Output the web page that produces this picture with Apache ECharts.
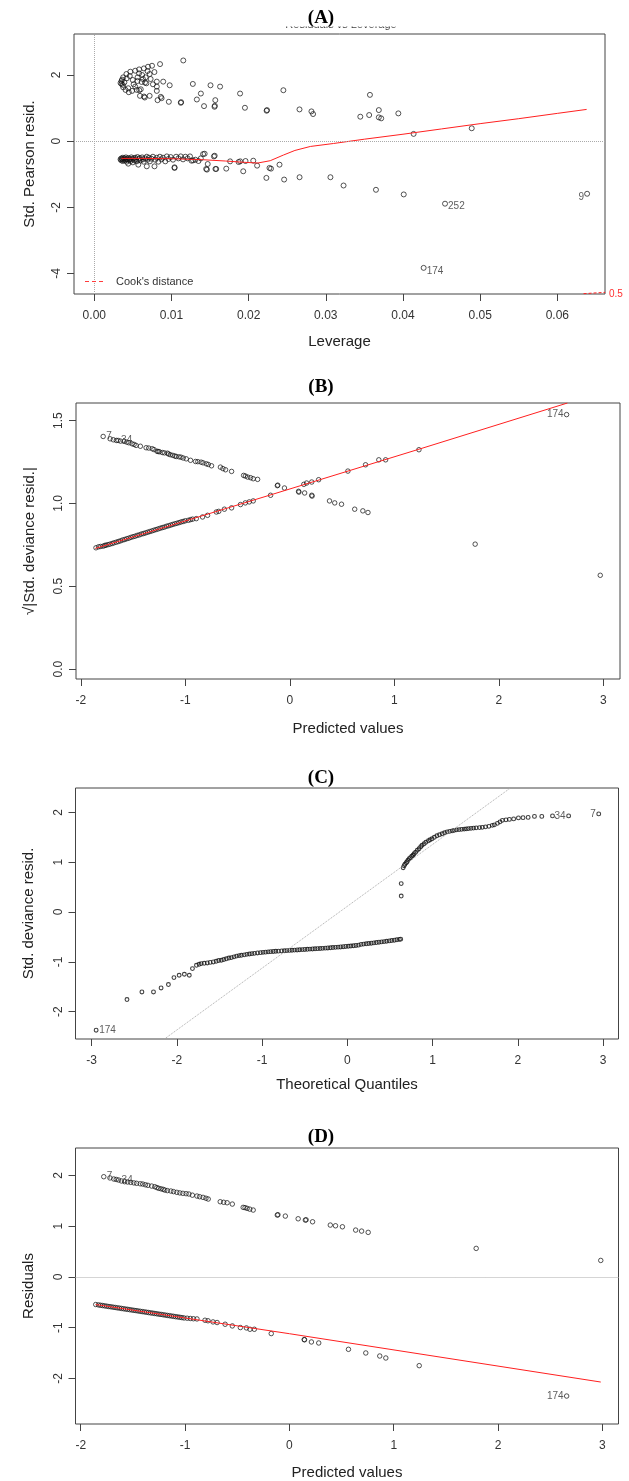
<!DOCTYPE html>
<html>
<head>
<meta charset="utf-8">
<title>GLM diagnostics</title>
<script src="https://cdn.jsdelivr.net/npm/echarts@6.0.0/dist/echarts.min.js"></script>
<style>
  html, body { margin: 0; padding: 0; background: #fff; }
  #chart { width: 629px; height: 1481px; }
</style>
</head>
<body>
<div id="chart"></div>
<script>
// (A) Residuals vs Leverage
const aPos = [
  [0.01153,2.44],[0.00852,2.33],[0.00748,2.28],[0.00696,2.25],[0.00643,2.20],[0.00581,2.17],[0.0053,2.13],
  [0.00467,2.10],[0.00416,2.03],[0.00374,1.93],[0.00353,1.82],[0.0034,1.76],[0.00353,1.73],[0.00374,1.63],
  [0.00405,1.55],[0.00447,1.48],[0.00592,1.37],[0.00654,1.32],[0.00717,1.37],[0.0082,1.24],[0.00862,1.34],
  [0.00966,1.19],[0.01121,1.16],[0.01125,1.18],[0.00498,1.85],[0.00561,1.93],[0.00613,1.79],[0.00675,1.75],
  [0.00602,1.57],[0.0053,1.65],[0.00665,1.93],[0.00717,2.03],[0.00779,2.09],[0.0081,1.80],[0.0081,1.65],
  [0.00893,1.80],[0.00977,1.69],[0.0081,1.52],[0.00872,1.30],[0.0037,1.70],[0.0039,1.78],[0.0036,1.86],
  [0.0042,1.90],[0.0046,1.97],[0.0044,1.60],[0.0049,1.52],[0.0051,1.72],[0.0056,1.82],[0.0058,2.05],
  [0.0062,2.00],[0.0069,2.12],[0.0073,1.88],[0.0076,1.72],[0.0063,1.88],[0.0055,1.55],[0.00644,1.35],
  [0.00583,1.54],[0.00657,1.77],[0.01277,1.73],[0.01329,1.26],[0.01381,1.44],[0.01422,1.06],[0.01506,1.69],
  [0.01558,1.04],[0.01562,1.07],[0.01568,1.24],[0.0163,1.65],[0.01889,1.44],[0.01952,1.01],[0.02233,0.92],
  [0.02238,0.94],[0.0245,1.54],[0.02659,0.96],[0.02814,0.90],[0.02835,0.82],[0.03447,0.74],[0.03562,0.79],
  [0.03572,1.40],[0.03687,0.94],[0.03687,0.72],[0.03718,0.69],[0.0394,0.84],[0.04138,0.22],[0.04891,0.39]
];
const aNeg = [
  [0.0034,-0.55],[0.0035,-0.52],[0.0035,-0.58],[0.0036,-0.54],[0.0037,-0.50],[0.0037,-0.60],[0.0038,-0.56],
  [0.0039,-0.52],[0.0040,-0.58],[0.0041,-0.54],[0.0041,-0.49],[0.0042,-0.62],[0.0043,-0.55],[0.0044,-0.51],
  [0.0044,-0.68],[0.0045,-0.57],[0.0046,-0.53],[0.0047,-0.60],[0.0048,-0.49],[0.0049,-0.55],[0.0050,-0.64],
  [0.0051,-0.52],[0.0052,-0.58],[0.0053,-0.50],[0.0054,-0.55],[0.0055,-0.61],[0.0056,-0.48],[0.0057,-0.71],
  [0.0058,-0.54],[0.0059,-0.51],[0.0060,-0.58],[0.0062,-0.49],[0.0063,-0.55],[0.0064,-0.62],[0.0066,-0.52],
  [0.0068,-0.76],[0.0068,-0.47],[0.0069,-0.56],[0.0071,-0.50],[0.0072,-0.61],[0.0074,-0.53],[0.0076,-0.47],
  [0.0078,-0.76],[0.0079,-0.56],[0.0081,-0.50],[0.0083,-0.62],[0.0085,-0.47],[0.0087,-0.55],[0.0089,-0.50],
  [0.0092,-0.61],[0.0094,-0.46],[0.0096,-0.54],[0.0099,-0.48],[0.0102,-0.56],[0.0104,-0.79],[0.0104,-0.81],
  [0.0106,-0.47],[0.0109,-0.52],[0.0112,-0.46],[0.0115,-0.55],[0.0118,-0.47],[0.0121,-0.52],[0.0124,-0.46],
  [0.0126,-0.59],[0.0128,-0.58],[0.0131,-0.56],[0.0135,-0.60],[0.0138,-0.52],[0.0141,-0.39],[0.0143,-0.38],
  [0.0145,-0.84],[0.0146,-0.86],[0.0147,-0.69],[0.0155,-0.46],[0.0156,-0.44],[0.0157,-0.84],[0.0158,-0.84],
  [0.0171,-0.83],[0.0176,-0.61],[0.0187,-0.63],[0.0189,-0.61],[0.0193,-0.91],[0.0196,-0.60],[0.0206,-0.59],
  [0.0211,-0.74],[0.0223,-1.11],[0.0227,-0.81],[0.0229,-0.83],[0.0240,-0.71],[0.0246,-1.16],[0.0266,-1.09],
  [0.0306,-1.09],[0.0323,-1.34],[0.0365,-1.47],[0.0401,-1.61],[0.04545,-1.89],[0.06386,-1.59],[0.04268,-3.83]
];
const aSmooth = [
  [0.0035,-0.52],[0.006,-0.52],[0.010,-0.53],[0.014,-0.56],[0.017,-0.60],[0.0195,-0.64],[0.0212,-0.66],
  [0.0228,-0.59],[0.0245,-0.42],[0.026,-0.28],[0.028,-0.16],[0.031,-0.07],[0.035,0.06],[0.040,0.21],
  [0.045,0.37],[0.050,0.53],[0.055,0.68],[0.060,0.84],[0.0638,0.96]
];
const aCook = [[0.0634,-4.61],[0.0662,-4.57]];
const aLabels = [[0.04545,-1.89,'252','right'],[0.04268,-3.83,'174','right'],[0.06386,-1.59,'9','left']];
const aXTicks = [0, 0.01, 0.02, 0.03, 0.04, 0.05, 0.06];
const aYTicks = [-4, -2, 0, 2];

// (B) Scale-Location
const bPos = [
  [-1.786,1.404],[-1.72,1.39],[-1.689,1.384],[-1.66,1.38],[-1.643,1.380],[-1.62,1.376],[-1.586,1.374],
  [-1.56,1.37],[-1.540,1.366],[-1.51,1.36],[-1.490,1.356],[-1.471,1.350],[-1.43,1.345],[-1.375,1.336],
  [-1.35,1.334],[-1.317,1.330],[-1.30,1.325],[-1.271,1.315],[-1.26,1.313],[-1.248,1.312],[-1.22,1.307],
  [-1.20,1.305],[-1.171,1.303],[-1.16,1.298],[-1.144,1.294],[-1.12,1.29],[-1.10,1.286],[-1.087,1.283],
  [-1.06,1.281],[-1.041,1.279],[-1.02,1.274],[-0.991,1.269],[-0.95,1.26],[-0.902,1.253],[-0.88,1.252],
  [-0.849,1.249],[-0.83,1.245],[-0.799,1.239],[-0.78,1.235],[-0.749,1.227],[-0.664,1.219],[-0.64,1.21],
  [-0.615,1.203],[-0.557,1.193],[-0.442,1.169],[-0.425,1.165],[-0.403,1.159],[-0.375,1.155],[-0.350,1.149],
  [-0.308,1.145],[-0.119,1.107],[-0.115,1.11],[-0.051,1.093],[0.084,1.073],[0.087,1.068],[0.142,1.063],
  [0.210,1.049],[0.213,1.044],[0.380,1.015],[0.430,1.003],[0.495,0.995],[0.621,0.965],[0.699,0.955],
  [0.748,0.945],[1.774,0.754],[2.971,0.566]
];
const bNeg = [
  [-1.855,0.732],[-1.83,0.738],[-1.81,0.74],[-1.786,0.742],[-1.77,0.746],[-1.759,0.748],[-1.74,0.751],
  [-1.721,0.754],[-1.70,0.758],[-1.682,0.762],[-1.66,0.766],[-1.64,0.77],[-1.62,0.774],[-1.60,0.779],
  [-1.58,0.782],[-1.56,0.787],[-1.54,0.79],[-1.52,0.795],[-1.50,0.799],[-1.48,0.802],[-1.46,0.807],
  [-1.44,0.81],[-1.42,0.815],[-1.40,0.818],[-1.38,0.822],[-1.36,0.826],[-1.34,0.83],[-1.32,0.834],
  [-1.30,0.838],[-1.28,0.842],[-1.26,0.846],[-1.24,0.85],[-1.22,0.854],[-1.20,0.857],[-1.18,0.862],
  [-1.16,0.865],[-1.14,0.869],[-1.12,0.873],[-1.10,0.877],[-1.08,0.88],[-1.06,0.884],[-1.04,0.888],
  [-1.02,0.891],[-1.00,0.895],[-0.971,0.898],[-0.95,0.902],[-0.93,0.905],[-0.895,0.908],[-0.835,0.918],
  [-0.787,0.928],[-0.703,0.948],[-0.68,0.952],[-0.626,0.965],[-0.557,0.973],[-0.472,0.993],[-0.426,1.003],
  [-0.388,1.009],[-0.350,1.015],[-0.184,1.049],[0.134,1.115],[0.161,1.123],[0.210,1.129],[0.276,1.143],
  [0.556,1.195],[0.725,1.233],[0.852,1.263],[0.917,1.263],[1.236,1.324],[2.649,1.536]
];
const bSmooth = [[-1.862,0.728],[-0.18,1.052],[1.236,1.327],[2.657,1.606]];
const bLabels = [[-1.786,1.404,'7','right'],[-1.643,1.380,'34','right'],[2.649,1.536,'174','left']];
const bXTicks = [-2, -1, 0, 1, 2, 3];
const bYTicks = [0, 0.5, 1, 1.5];

// (C) Normal Q-Q
const cPts = [
  [-2.948,-2.373],[-2.586,-1.758],[-2.411,-1.605],[-2.275,-1.605],[-2.186,-1.525],[-2.10,-1.457],[-2.035,-1.317],
  [-1.974,-1.27],[-1.913,-1.25],[-1.855,-1.27],[-1.818,-1.136],[-1.771,-1.07],[-1.74,-1.05],[-1.715,-1.036],
  [-1.68,-1.03],[-1.644,-1.023],[-1.61,-1.012],[-1.573,-1.003],[-1.54,-0.99],[-1.51,-0.975],[-1.479,-0.969],
  [-1.45,-0.955],[-1.42,-0.94],[-1.39,-0.925],[-1.361,-0.916],[-1.33,-0.90],[-1.30,-0.885],[-1.27,-0.875],
  [-1.243,-0.869],[-1.21,-0.86],[-1.18,-0.85],[-1.15,-0.843],[-1.12,-0.836],[-1.09,-0.83],[-1.055,-0.822],
  [-1.02,-0.816],[-0.99,-0.81],[-0.96,-0.806],[-0.93,-0.80],[-0.90,-0.796],[-0.87,-0.792],[-0.84,-0.789],
  [-0.81,-0.786],[-0.772,-0.782],[-0.74,-0.778],[-0.71,-0.775],[-0.68,-0.771],[-0.65,-0.768],[-0.62,-0.765],
  [-0.59,-0.762],[-0.56,-0.758],[-0.53,-0.755],[-0.50,-0.752],[-0.47,-0.749],[-0.44,-0.745],[-0.41,-0.742],
  [-0.38,-0.739],[-0.35,-0.736],[-0.32,-0.733],[-0.29,-0.73],[-0.26,-0.726],[-0.23,-0.722],[-0.20,-0.718],
  [-0.17,-0.714],[-0.14,-0.71],[-0.11,-0.706],[-0.08,-0.702],[-0.05,-0.697],[-0.02,-0.692],[0.01,-0.688],
  [0.04,-0.683],[0.07,-0.678],[0.10,-0.672],[0.13,-0.666],[0.16,-0.65],[0.19,-0.644],[0.22,-0.638],
  [0.25,-0.632],[0.28,-0.626],[0.31,-0.62],[0.34,-0.613],[0.37,-0.606],[0.40,-0.60],[0.43,-0.594],
  [0.46,-0.587],[0.49,-0.58],[0.52,-0.573],[0.55,-0.566],[0.58,-0.558],[0.61,-0.55],[0.625,-0.545],
  [0.631,0.32],[0.631,0.57],
  [0.654,0.89],[0.665,0.93],[0.675,0.96],[0.69,0.99],[0.70,1.01],[0.711,1.04],[0.725,1.07],[0.74,1.09],
  [0.755,1.12],[0.77,1.14],[0.782,1.17],[0.80,1.20],[0.82,1.24],[0.84,1.27],[0.86,1.31],[0.876,1.34],
  [0.90,1.37],[0.92,1.40],[0.95,1.43],[0.97,1.45],[0.993,1.47],[1.02,1.50],[1.05,1.53],[1.08,1.55],
  [1.112,1.57],[1.14,1.59],[1.17,1.61],[1.20,1.62],[1.23,1.63],[1.253,1.64],[1.28,1.65],[1.31,1.655],
  [1.34,1.66],[1.37,1.665],[1.394,1.67],[1.42,1.675],[1.45,1.68],[1.48,1.685],[1.51,1.69],[1.55,1.695],
  [1.582,1.70],[1.62,1.71],[1.66,1.72],[1.70,1.74],[1.724,1.75],[1.76,1.78],[1.79,1.81],[1.818,1.84],
  [1.86,1.85],[1.90,1.86],[1.95,1.87],[2.006,1.89],[2.06,1.895],[2.12,1.90],[2.194,1.92],[2.28,1.92],
  [2.406,1.93],[2.595,1.93],[2.948,1.97]
];
const cQQLine = [[-2.147,-2.55],[1.912,2.49]];
const cLabels = [[-2.948,-2.373,'174','right'],[2.595,1.93,'34','left'],[2.948,1.97,'7','left']];
const cXTicks = [-3, -2, -1, 0, 1, 2, 3];
const cYTicks = [-2, -1, 0, 1, 2];

// (D) Residuals vs Fitted
const dPos = [
  [-1.779,1.974],[-1.72,1.95],[-1.683,1.929],[-1.66,1.92],[-1.637,1.909],[-1.61,1.89],[-1.579,1.876],
  [-1.55,1.87],[-1.521,1.863],[-1.49,1.852],[-1.464,1.844],[-1.43,1.835],[-1.406,1.83],[-1.38,1.815],
  [-1.356,1.804],[-1.32,1.79],[-1.29,1.777],[-1.27,1.76],[-1.252,1.745],[-1.23,1.735],[-1.21,1.725],
  [-1.194,1.711],[-1.17,1.70],[-1.136,1.692],[-1.11,1.68],[-1.079,1.666],[-1.05,1.655],[-1.021,1.646],
  [-0.99,1.64],[-0.963,1.633],[-0.93,1.61],[-0.886,1.593],[-0.86,1.58],[-0.828,1.567],[-0.80,1.55],
  [-0.778,1.534],[-0.663,1.481],[-0.63,1.47],[-0.597,1.461],[-0.547,1.435],[-0.443,1.37],[-0.425,1.365],
  [-0.405,1.35],[-0.38,1.335],[-0.347,1.317],[-0.116,1.218],[-0.11,1.225],[-0.039,1.198],[0.084,1.145],
  [0.153,1.119],[0.16,1.125],[0.222,1.086],[0.392,1.021],[0.442,1.007],[0.508,0.987],[0.635,0.922],
  [0.692,0.902],[0.755,0.877],[1.79,0.561],[2.984,0.324]
];
const dNeg = [
  [-1.856,-0.545],[-1.83,-0.553],[-1.81,-0.56],[-1.79,-0.565],[-1.77,-0.572],[-1.75,-0.578],[-1.73,-0.585],
  [-1.71,-0.59],[-1.69,-0.597],[-1.67,-0.603],[-1.65,-0.61],[-1.63,-0.615],[-1.61,-0.622],[-1.59,-0.628],
  [-1.57,-0.635],[-1.55,-0.64],[-1.53,-0.647],[-1.51,-0.653],[-1.49,-0.66],[-1.47,-0.665],[-1.45,-0.672],
  [-1.43,-0.678],[-1.41,-0.685],[-1.39,-0.69],[-1.37,-0.697],[-1.35,-0.703],[-1.33,-0.71],[-1.31,-0.715],
  [-1.29,-0.722],[-1.27,-0.728],[-1.25,-0.735],[-1.23,-0.74],[-1.21,-0.747],[-1.19,-0.753],[-1.17,-0.76],
  [-1.15,-0.765],[-1.13,-0.772],[-1.11,-0.778],[-1.09,-0.785],[-1.07,-0.79],[-1.05,-0.797],[-1.03,-0.803],
  [-1.01,-0.81],[-0.98,-0.815],[-0.95,-0.82],[-0.92,-0.825],[-0.886,-0.829],[-0.809,-0.855],[-0.78,-0.865],
  [-0.732,-0.888],[-0.693,-0.90],[-0.616,-0.934],[-0.547,-0.967],[-0.47,-0.999],[-0.412,-1.006],
  [-0.378,-1.033],[-0.336,-1.033],[-0.174,-1.118],[0.142,-1.236],[0.145,-1.24],[0.211,-1.283],
  [0.281,-1.303],[0.566,-1.428],[0.732,-1.50],[0.866,-1.56],[0.924,-1.599],[1.244,-1.75],[2.657,-2.349]
];
const dSmooth = [[-1.856,-0.545],[0,-1.12],[2.984,-2.073]];
const dLabels = [[-1.779,1.974,'7','right'],[-1.637,1.909,'34','right'],[2.657,-2.349,'174','left']];
const dXTicks = [-2, -1, 0, 1, 2, 3];
const dYTicks = [-2, -1, 0, 1, 2];

const SANS = '"Liberation Sans", Arial, sans-serif';
const SERIF = '"Liberation Serif", "Times New Roman", serif';
const AXC = '#444';

function xAx(gi, min, max, ticks, dec, name, gap) {
  return {
    type: 'value', gridIndex: gi, min: min, max: max,
    axisLine: { show: false, onZero: false },
    axisTick: { show: true, length: 7, inside: false, customValues: ticks, lineStyle: { color: AXC } },
    axisLabel: { customValues: ticks, formatter: v => v.toFixed(dec), margin: 16, fontSize: 12, color: '#333', fontFamily: SANS },
    splitLine: { show: false },
    name: name, nameLocation: 'middle', nameGap: gap,
    nameTextStyle: { fontSize: 15, color: '#222', fontFamily: SANS }
  };
}
function yAx(gi, min, max, ticks, dec, name, gap) {
  return {
    type: 'value', gridIndex: gi, min: min, max: max,
    axisLine: { show: false, onZero: false },
    axisTick: { show: true, length: 7, inside: false, customValues: ticks, lineStyle: { color: AXC } },
    axisLabel: { customValues: ticks, formatter: v => v.toFixed(dec), rotate: 90, margin: 11, fontSize: 12, color: '#333', fontFamily: SANS },
    splitLine: { show: false },
    name: name, nameLocation: 'middle', nameGap: gap,
    nameTextStyle: { fontSize: 15, color: '#222', fontFamily: SANS }
  };
}
function pts(gi, data, size, bw) {
  return {
    type: 'scatter', xAxisIndex: gi, yAxisIndex: gi, data: data, symbol: 'circle', symbolSize: size,
    itemStyle: { color: 'rgba(0,0,0,0)', borderColor: '#111', borderWidth: bw || 0.9 }, silent: true
  };
}
function redLine(gi, data, dashed) {
  return {
    type: 'line', xAxisIndex: gi, yAxisIndex: gi, data: data, showSymbol: false, symbol: 'none', silent: true,
    lineStyle: { color: '#ff2020', width: 1, type: dashed ? [3, 2] : 'solid' }
  };
}
function labels(gi, arr, dy) {
  return {
    type: 'scatter', xAxisIndex: gi, yAxisIndex: gi, symbolSize: 0, silent: true,
    data: arr.map(l => ({
      value: [l[0], l[1]],
      label: { show: true, formatter: l[2], position: l[3], distance: 3, offset: [0, dy],
               fontSize: 10, color: '#333', fontFamily: SANS }
    }))
  };
}
const dotted = { type: 'dotted', color: '#aaa', width: 1 };

const grids = [
  { left: 74, top: 34, width: 531, height: 260 },
  { left: 76, top: 403, width: 544, height: 276 },
  { left: 75.5, top: 788, width: 543, height: 251 },
  { left: 75.5, top: 1148, width: 543, height: 276 }
].map(g => Object.assign({ show: true, borderColor: AXC, borderWidth: 1, containLabel: false }, g));

const aScatter = pts(0, aPos.concat(aNeg), 5);
aScatter.markLine = { silent: true, symbol: 'none', label: { show: false }, lineStyle: dotted, animation: false,
  data: [{ yAxis: 0 }, { xAxis: 0 }] };
const dScatter = pts(3, dPos.concat(dNeg), 4.5);
dScatter.markLine = { silent: true, symbol: 'none', label: { show: false }, lineStyle: dotted, animation: false,
  data: [{ yAxis: 0 }] };
const cLine = {
  type: 'line', xAxisIndex: 2, yAxisIndex: 2, data: cQQLine, showSymbol: false, symbol: 'none', silent: true,
  lineStyle: dotted
};

function title(t, y) {
  return { type: 'text', x: 321, y: y, z: 10,
    style: { text: t, font: 'bold 19px ' + SERIF, fill: '#000', align: 'center', verticalAlign: 'middle' } };
}

const option = {
  animation: false,
  backgroundColor: '#fff',
  grid: grids,
  xAxis: [
    xAx(0, -0.00263, 0.06618, aXTicks, 2, 'Leverage', 40),
    xAx(1, -2.046, 3.16, bXTicks, 0, 'Predicted values', 42),
    xAx(2, -3.19, 3.18, cXTicks, 0, 'Theoretical Quantiles', 38),
    xAx(3, -2.05, 3.154, dXTicks, 0, 'Predicted values', 41)
  ],
  yAxis: [
    yAx(0, -4.62, 3.24, aYTicks, 0, 'Std. Pearson resid.', 37),
    yAx(1, -0.06, 1.606, bYTicks, 1, '√|Std. deviance resid.|', 39),
    yAx(2, -2.55, 2.49, cYTicks, 0, 'Std. deviance resid.', 39),
    yAx(3, -2.9, 2.54, dYTicks, 0, 'Residuals', 39)
  ],
  series: [
    aScatter, redLine(0, aSmooth, false), redLine(0, aCook, true), labels(0, aLabels, 3),
    pts(1, bPos.concat(bNeg), 4.5), redLine(1, bSmooth, false), labels(1, bLabels, 0),
    cLine, pts(2, cPts, 3.8, 1.1), labels(2, cLabels, 0),
    dScatter, redLine(3, dSmooth, false), labels(3, dLabels, 0)
  ],
  graphic: [
    { type: 'text', x: 341, y: 30, z: 1,
      style: { text: 'Residuals vs Leverage', font: '11px ' + SANS, fill: '#444', align: 'center', verticalAlign: 'bottom' } },
    { type: 'rect', shape: { x: 200, y: 0, width: 260, height: 26.5 }, z: 5, style: { fill: '#fff' } },
    title('(A)', 18), title('(B)', 387), title('(C)', 778), title('(D)', 1137),
    { type: 'line', shape: { x1: 85, y1: 281.5, x2: 105, y2: 281.5 }, z: 10,
      style: { stroke: '#ff3b3b', lineWidth: 1.2, lineDash: [4, 3] } },
    { type: 'text', x: 116, y: 281.5, z: 10,
      style: { text: "Cook's distance", font: '11px ' + SANS, fill: '#333', verticalAlign: 'middle' } },
    { type: 'text', x: 609, y: 294.5, z: 10,
      style: { text: '0.5', font: '10px ' + SANS, fill: '#ff3030', verticalAlign: 'middle' } }
  ]
};

const chart = echarts.init(document.getElementById('chart'), null, { renderer: 'canvas' });
chart.setOption(option);
</script>
</body>
</html>
